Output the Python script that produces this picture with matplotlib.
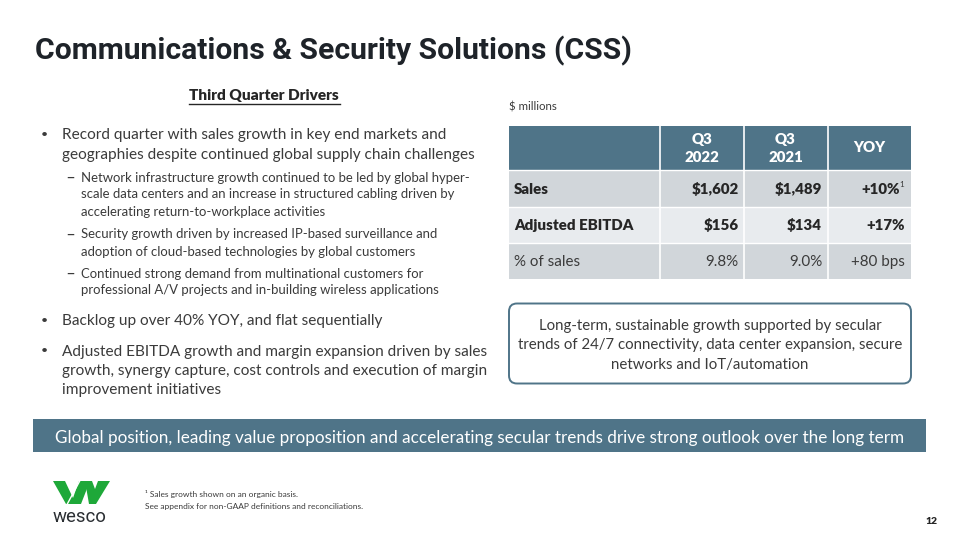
import matplotlib
matplotlib.use("Agg")
import matplotlib.pyplot as plt
from matplotlib.patches import Rectangle, FancyBboxPatch, Polygon

# ---------------- data ----------------
title = "Communications & Security Solutions (CSS)"
section_heading = "Third Quarter Drivers"
units_label = "$ millions"

bullet1 = ["Record quarter with sales growth in key end markets and",
           "geographies despite continued global supply chain challenges"]
sub1 = ["Network infrastructure growth continued to be led by global hyper-",
        "scale data centers and an increase in structured cabling driven by",
        "accelerating return-to-workplace activities"]
sub2 = ["Security growth driven by increased IP-based surveillance and",
        "adoption of cloud-based technologies by global customers"]
sub3 = ["Continued strong demand from multinational customers for",
        "professional A/V projects and in-building wireless applications"]
bullet2 = ["Backlog up over 40% YOY, and flat sequentially"]
bullet3 = ["Adjusted EBITDA growth and margin expansion driven by sales",
           "growth, synergy capture, cost controls and execution of margin",
           "improvement initiatives"]

col_headers = ["Q3\n2022", "Q3\n2021", "YOY"]
row_labels = ["Sales", "Adjusted EBITDA", "% of sales"]
q3_2022 = ["$1,602", "$156", "9.8%"]
q3_2021 = ["$1,489", "$134", "9.0%"]
yoy = ["+10%", "+17%", "+80 bps"]
yoy_notes = ["1", "", ""]
row_bold = [True, True, False]

box_text = ["Long-term, sustainable growth supported by secular",
            "trends of 24/7 connectivity, data center expansion, secure",
            "networks and IoT/automation"]
banner_text = ("Global position, leading value proposition and accelerating "
               "secular trends drive strong outlook over the long term")
footnotes = ["\u00b9 Sales growth shown on an organic basis.",
             "See appendix for non-GAAP definitions and reconciliations."]
page_no = "12"
brand = "wesco"

# ---------------- style ----------------
BODY = ["Lato", "DejaVu Sans"]
TITLE_F = ["Roboto", "DejaVu Sans"]
C_TITLE = "#1e2329"
C_TEXT = "#3b3b3b"
C_DARK = "#262626"
C_BLUE = "#4f7488"
C_ROW1 = "#d1d6da"
C_ROW2 = "#e8ebee"
C_GREEN = "#1ea839"
BOLDW = "heavy"

fig = plt.figure(figsize=(9.6, 5.4), dpi=100)
ax = fig.add_axes([0, 0, 1, 1])
ax.set_xlim(0, 960)
ax.set_ylim(540, 0)
ax.axis("off")
renderer = fig.canvas.get_renderer()


def fit(text, width, family, weight="normal"):
    t = ax.text(0, 0, text, fontsize=10, family=family, weight=weight)
    w = t.get_window_extent(renderer).width
    t.remove()
    return 10 * width / w


# title
fs_title = fit(title, 598, TITLE_F, "bold")
ax.text(35, 59.5, title, fontsize=fs_title, family=TITLE_F, weight="bold",
        color=C_TITLE, va="baseline", ha="left")

# section heading
fs_head = fit(section_heading, 151, BODY, BOLDW)
ax.text(264, 100, section_heading, fontsize=fs_head, family=BODY, weight=BOLDW,
        color=C_DARK, va="baseline", ha="center")
ax.plot([189, 340], [103.5, 103.5], color=C_DARK, lw=1.0)

# bullets
fs_b = fit(bullet1[1], 415, BODY)
fs_s = fit(sub1[0], 392, BODY)
fs_dash = fit("\u2013", 8, ["DejaVu Sans"])


def block(lines, baselines, x, fs, sub):
    if sub:
        ax.text(70.5, baselines[0] - 4.5, "\u2013", fontsize=fs_dash,
                family=["DejaVu Sans"], color=C_TEXT, va="center", ha="center")
    else:
        ax.text(44, baselines[0] - 5, "\u2022", fontsize=fs * 0.8, family=BODY,
                color=C_TEXT, va="center", ha="center")
    for ln, yb in zip(lines, baselines):
        ax.text(x, yb, ln, fontsize=fs, family=BODY, color=C_TEXT,
                va="baseline", ha="left")


block(bullet1, [139, 158.5], 62, fs_b, False)
block(sub1, [181.5, 198.5, 215.5], 81, fs_s, True)
block(sub2, [238.5, 255.5], 81, fs_s, True)
block(sub3, [277.5, 294.5], 81, fs_s, True)
block(bullet2, [325], 62, fs_b, False)
block(bullet3, [356, 375, 394], 62, fs_b, False)

# units label
fs_u = fit(units_label, 48, BODY)
ax.text(509, 111, units_label, fontsize=fs_u, family=BODY, color=C_TEXT,
        va="baseline", ha="left")

# table
col_x = [508.5, 660, 743.5, 827.5, 910.5]
row_y = [125.5, 170, 206.5, 242.5, 278.5]
ax.add_patch(Rectangle((col_x[0], row_y[0]), col_x[-1] - col_x[0],
                       row_y[1] - row_y[0], color=C_BLUE, lw=0))
row_cols = [C_ROW1, C_ROW2, C_ROW1]
for i in range(3):
    ax.add_patch(Rectangle((col_x[0], row_y[i + 1]), col_x[-1] - col_x[0],
                           row_y[i + 2] - row_y[i + 1], color=row_cols[i], lw=0))
for cx in col_x[1:-1]:
    ax.plot([cx, cx], [row_y[0], row_y[-1]], color="white", lw=1.2)
for ry in row_y[1:-1]:
    ax.plot([col_x[0], col_x[-1]], [ry, ry], color="white", lw=1.0)

fs_t = fit("Adjusted EBITDA", 119, BODY, BOLDW)
fs_tr = fit("% of sales", 66, BODY)
for j, h in enumerate(col_headers):
    cx = (col_x[j + 1] + col_x[j + 2]) / 2
    parts = h.split("\n")
    if len(parts) == 2:
        ax.text(cx, 143.5, parts[0], fontsize=fs_t, family=BODY, weight=BOLDW,
                color="white", ha="center", va="baseline")
        ax.text(cx, 162, parts[1], fontsize=fs_t, family=BODY, weight=BOLDW,
                color="white", ha="center", va="baseline")
    else:
        ax.text(cx, 152.5, parts[0], fontsize=fs_t, family=BODY, weight=BOLDW,
                color="white", ha="center", va="baseline")

right_x = [738.5, 822, 905]
for i in range(3):
    yb = (row_y[i + 1] + row_y[i + 2]) / 2 + 5.5
    w = BOLDW if row_bold[i] else "normal"
    fs = fs_t if row_bold[i] else fs_tr
    col = C_DARK if row_bold[i] else C_TEXT
    ax.text(514, yb, row_labels[i], fontsize=fs, family=BODY, weight=w,
            color=col, ha="left", va="baseline")
    ax.text(right_x[0], yb, q3_2022[i], fontsize=fs, family=BODY, weight=w,
            color=col, ha="right", va="baseline")
    ax.text(right_x[1], yb, q3_2021[i], fontsize=fs, family=BODY, weight=w,
            color=col, ha="right", va="baseline")
    if yoy_notes[i]:
        ax.text(right_x[2] - 5, yb, yoy[i], fontsize=fs, family=BODY, weight=w,
                color=col, ha="right", va="baseline")
        ax.text(right_x[2] - 6, yb - 6.5, yoy_notes[i], fontsize=fs * 0.55,
                family=BODY, color=C_TEXT, ha="left", va="baseline")
    else:
        ax.text(right_x[2], yb, yoy[i], fontsize=fs, family=BODY, weight=w,
                color=col, ha="right", va="baseline")

# rounded box
ax.add_patch(FancyBboxPatch((509, 303.5), 402, 80, boxstyle="round,pad=0,rounding_size=8",
                            facecolor="white", edgecolor=C_BLUE, lw=1.4))
fs_box = fit(box_text[1], 384, BODY)
for ln, yb in zip(box_text, [330, 349.5, 368.5]):
    ax.text(710, yb, ln, fontsize=fs_box, family=BODY, color=C_TEXT,
            ha="center", va="baseline")

# banner
ax.add_patch(Rectangle((33, 419), 893, 33, color=C_BLUE, lw=0))
fs_ban = fit(banner_text, 852, BODY)
ax.text(479.5, 442.5, banner_text, fontsize=fs_ban, family=BODY, color="white",
        ha="center", va="baseline")

# footnotes
fs_fn = fit(footnotes[1], 219, BODY)
ax.text(145, 497, footnotes[0], fontsize=fs_fn, family=BODY, color=C_TEXT,
        ha="left", va="baseline")
ax.text(145, 509.5, footnotes[1], fontsize=fs_fn, family=BODY, color=C_TEXT,
        ha="left", va="baseline")

# page number
ax.text(938, 524, page_no, fontsize=7.5, family=BODY, weight=BOLDW,
        color=C_DARK, ha="right", va="baseline")

# logo
left_v = [(53, 481), (65, 481), (73, 498), (79, 481), (90, 481), (81, 504), (66, 504)]
right_v = [(85, 481), (92, 481), (95, 489), (98, 481), (110, 481), (96, 504), (89, 504)]
ax.add_patch(Polygon(left_v, closed=True, color=C_GREEN, lw=0))
ax.add_patch(Polygon(right_v, closed=True, color=C_GREEN, lw=0))
ax.plot([67, 80], [504.5, 480.5], color="white", lw=1.0)
fs_logo = fit(brand, 54, ["Roboto", "DejaVu Sans"], "normal")
ax.text(53, 522, brand, fontsize=fs_logo, family=["Roboto", "DejaVu Sans"],
        weight="normal", color="#2b2f33", ha="left", va="baseline")

fig.savefig("out.png", dpi=100, facecolor="white")
